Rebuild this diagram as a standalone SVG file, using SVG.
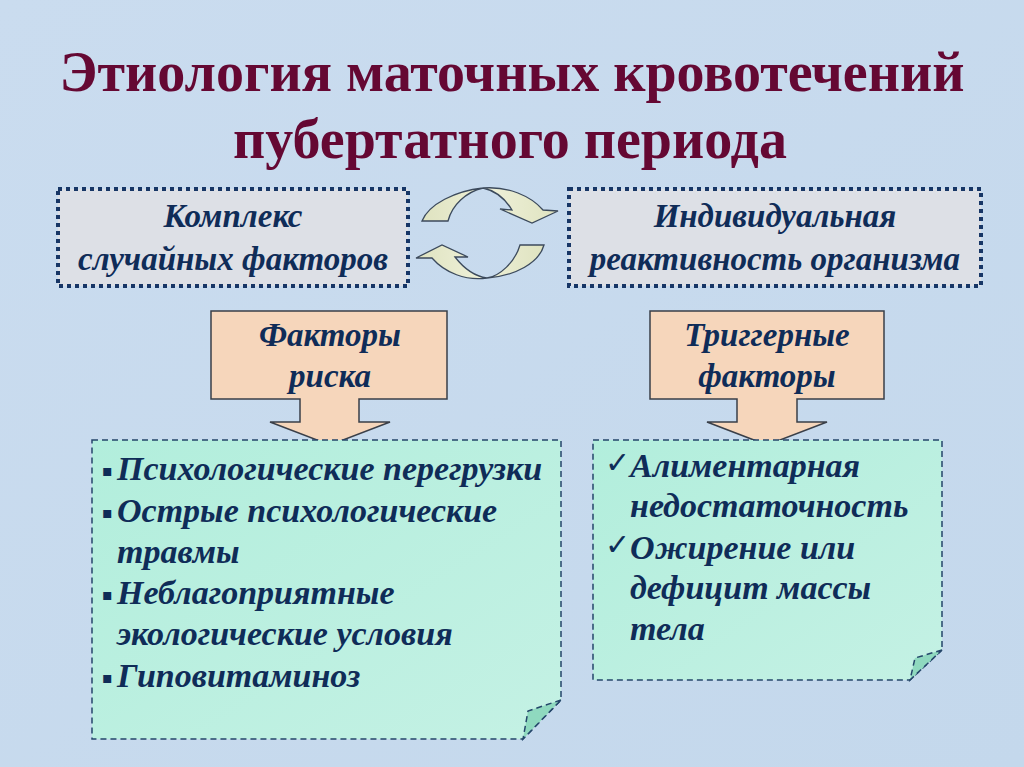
<svg xmlns="http://www.w3.org/2000/svg" width="1024" height="767" viewBox="0 0 1024 767">
<defs>
<style>
.title{font-family:"Liberation Serif",serif;font-weight:bold;font-size:56px;fill:#650833;text-anchor:middle}
.bx{font-family:"Liberation Serif",serif;font-weight:bold;font-style:italic;font-size:33px;fill:#0f2c58;text-anchor:middle}
.li{font-family:"Liberation Serif",serif;font-weight:bold;font-style:italic;font-size:34px;fill:#0f2c58}
.bul{font-family:"DejaVu Sans",sans-serif;font-size:16px;fill:#0f2c58}
.chk{font-family:"DejaVu Sans",sans-serif;font-size:30px;font-weight:bold;fill:#0f2c58}
.dotbox{fill:#dde0e6;stroke:#173666;stroke-width:4;stroke-dasharray:4 4}
.callout{fill:#f6d6bb;stroke:#3a3f48;stroke-width:1.5}
.note{fill:url(#mint);stroke:#24466a;stroke-width:1.5;stroke-dasharray:6 4}
.flap{fill:#8fd9bf;stroke:#24466a;stroke-width:1.5;stroke-dasharray:6 4}
.carrow{fill:url(#cream);stroke:#3c4a5c;stroke-width:1.3}
</style>
<linearGradient id="mint" x1="0" y1="0" x2="1" y2="1">
<stop offset="0" stop-color="#b2eedc"/>
<stop offset="1" stop-color="#c4f1e4"/>
</linearGradient>
<linearGradient id="cream" x1="0" y1="0" x2="1" y2="0">
<stop offset="0" stop-color="#dfe3c0"/>
<stop offset="0.5" stop-color="#eef0d8"/>
<stop offset="1" stop-color="#dfe3c0"/>
</linearGradient>
<linearGradient id="bg" x1="0" y1="0" x2="1" y2="1">
<stop offset="0" stop-color="#cadcef"/>
<stop offset="1" stop-color="#c4d8ec"/>
</linearGradient>
</defs>
<rect width="1024" height="767" fill="url(#bg)"/>
<g id="title">
<text class="title" x="512" y="91">Этиология маточных кровотечений</text>
<text class="title" x="510" y="158">пубертатного периода</text>
</g>
<g id="node-complex">
<rect class="dotbox" x="58" y="189" width="350" height="97"/>
<text class="bx" x="233" y="227">Комплекс</text>
<text class="bx" x="233" y="270">случайных факторов</text>
</g>
<g id="node-reactivity">
<rect class="dotbox" x="569" y="189" width="412" height="97"/>
<text class="bx" x="775" y="227">Индивидуальная</text>
<text class="bx" x="775" y="270">реактивность организма</text>
</g>
<g id="connectors">
<path class="carrow" d="M422,221 L448,221 C452,205 466,192 483,188 C497,191 506,200 512,210 L500,209 L532,223 L558,211 L543,210 C531,196 508,186 483,188 C455,191 429,204 422,221 Z"/>
<path class="carrow" d="M544,245 L520,245 C515,262 500,276 487,278 C472,276 462,266 455,257 L468,257 L442,245 L416,258 L432,258 C445,273 466,281 487,278 C515,276 539,263 544,245 Z"/>
</g>
<g id="node-risk">
<path class="callout" d="M211,311 H447 V399 H359 V422 H390 L330,445 L270,422 H300 V399 H211 Z"/>
<text class="bx" x="330" y="346">Факторы</text>
<text class="bx" x="330" y="387">риска</text>
</g>
<g id="node-trigger">
<path class="callout" d="M650,311 H884 V399 H797 V422 H827 L767,445 L707,422 H737 V399 H650 Z"/>
<text class="bx" x="767" y="346">Триггерные</text>
<text class="bx" x="767" y="387">факторы</text>
</g>
<g id="node-risk-list">
<path class="note" d="M92,440 H561 V700 L523,739 H92 Z"/>
<path class="flap" d="M561,700 L528,711 L523,739 Z"/>
<text class="bul" x="102" y="476">▪</text>
<text class="li" x="117" y="480">Психологические перегрузки</text>
<text class="bul" x="102" y="518">▪</text>
<text class="li" x="117" y="522">Острые психологические</text>
<text class="li" x="117" y="563">травмы</text>
<text class="bul" x="102" y="600">▪</text>
<text class="li" x="117" y="604">Неблагоприятные</text>
<text class="li" x="117" y="645">экологические условия</text>
<text class="bul" x="102" y="683">▪</text>
<text class="li" x="117" y="687">Гиповитаминоз</text>
</g>
<g id="node-trigger-list">
<path class="note" d="M593,440 H942 V650 L910,680 H593 Z"/>
<path class="flap" d="M942,650 L915,658 L910,680 Z"/>
<text class="chk" x="605" y="473">✓</text>
<text class="li" x="630" y="477">Алиментарная</text>
<text class="li" x="630" y="517">недостаточность</text>
<text class="chk" x="605" y="555">✓</text>
<text class="li" x="630" y="559">Ожирение или</text>
<text class="li" x="630" y="599">дефицит массы</text>
<text class="li" x="630" y="640">тела</text>
</g>
</svg>
